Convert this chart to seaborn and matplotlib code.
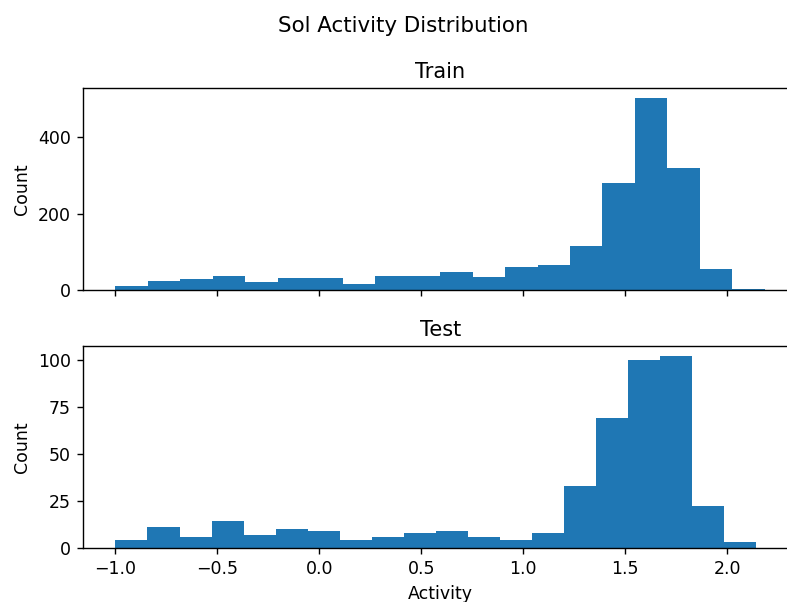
import numpy as np
import pandas as pd
import matplotlib
matplotlib.use('Agg')
import matplotlib.pyplot as plt
import seaborn as sns


# Histogram counts (20 bins each)
train_counts = [10, 23, 28, 38, 20, 31, 31, 17, 38, 38,
                46, 33, 59, 65, 115, 280, 502, 319, 54, 4]
test_counts = [4, 11, 6, 14, 7, 10, 9, 4, 6, 8,
               9, 6, 4, 8, 33, 69, 100, 102, 22, 3]

# Activity range covered by the bins
train_range = (-1.0, 2.185)
test_range = (-1.0, 2.14)
n_bins = 20


def make_df(counts, rng):
    edges = np.linspace(rng[0], rng[1], n_bins + 1)
    centers = (edges[:-1] + edges[1:]) / 2
    return pd.DataFrame({'Activity': centers, 'count': counts})


train_df = make_df(train_counts, train_range)
test_df = make_df(test_counts, test_range)

fig, axes = plt.subplots(2, 1, figsize=(6.296, 4.816), dpi=125, sharex=True)
fig.subplots_adjust(left=0.1055, right=1.013, top=0.853, bottom=0.090, hspace=0.279)

sns.histplot(data=train_df, x='Activity', weights='count', bins=n_bins, binrange=train_range,
             color='#1f77b4', alpha=1, linewidth=0, ax=axes[0])
axes[0].set_title('Train')
axes[0].set_xlabel('')
axes[0].set_ylabel('Count')

sns.histplot(data=test_df, x='Activity', weights='count', bins=n_bins, binrange=test_range,
             color='#1f77b4', alpha=1, linewidth=0, ax=axes[1])
axes[1].set_title('Test')
axes[1].set_xlabel('Activity')
axes[1].set_ylabel('Count')

fig.suptitle('Sol Activity Distribution', x=0.513, y=0.957, va='center', fontsize=12.3)

plt.savefig('out.png', dpi=125)
